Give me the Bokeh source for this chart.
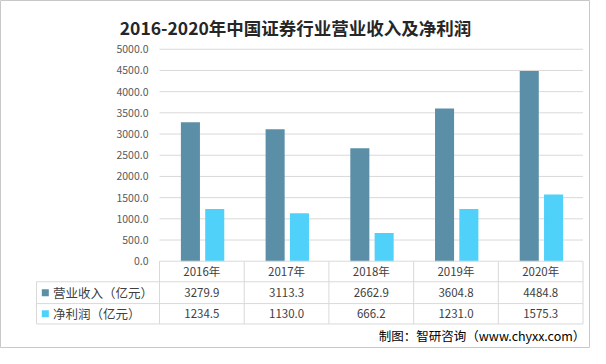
from bokeh.plotting import figure
from bokeh.models import ColumnDataSource, Range1d
from bokeh.core.properties import value
from bokeh.embed import file_html
from bokeh.resources import INLINE
import numpy as np

# ---- data ----
title_text = "2016-2020年中国证券行业营业收入及净利润"
years = ["2016年", "2017年", "2018年", "2019年", "2020年"]
revenue = [3279.9, 3113.3, 2662.9, 3604.8, 4484.8]
profit = [1234.5, 1130.0, 666.2, 1231.0, 1575.3]
series_names = ["营业收入（亿元）", "净利润（亿元）"]
y_ticks = [0, 500, 1000, 1500, 2000, 2500, 3000, 3500, 4000, 4500, 5000]
source_note = "制图：智研咨询（www.chyxx.com）"

# ---- styles ----
C_REV = "#5b8fa8"
C_PRO = "#4fd1fa"
GRID = "#d9d9d9"
FONT = value("Noto Sans CJK SC")

W, H = 590, 348
p = figure(width=W, height=H, output_backend="svg", toolbar_location=None,
           x_axis_location=None, y_axis_location=None, title=None,
           x_range=Range1d(-1.877, 5.088), y_range=Range1d(-2059, 6150),
           min_border=0, tools="")
p.outline_line_color = "#c8c8c8"
p.outline_line_width = 1
p.xgrid.visible = False
p.ygrid.visible = False
p.background_fill_color = "white"
p.border_fill_color = "white"

n = len(years)
idx = np.arange(n)

# gridlines (above 0)
gy = [t for t in y_ticks if t > 0]
p.segment(x0=[0] * len(gy), x1=[n] * len(gy), y0=gy, y1=gy, line_color=GRID, line_width=1)

# bars
src = ColumnDataSource(dict(x1=idx + 0.365, x2=idx + 0.652, rev=revenue, pro=profit))
p.vbar(x="x1", top="rev", bottom=0, width=0.225, source=src, fill_color=C_REV, line_color=None)
p.vbar(x="x2", top="pro", bottom=0, width=0.225, source=src, fill_color=C_PRO, line_color=None)

# y tick labels
p.text(x=[0] * len(y_ticks), y=y_ticks, text=[f"{t:.1f}" for t in y_ticks],
       x_offset=-11, text_align="right", text_baseline="middle",
       text_font=FONT, text_font_size="10.5px", text_color="#595959")

# table
ROW = [0, -485, -1000, -1480]
LEFT = -1.452
p.segment(x0=[0], x1=[n], y0=[ROW[0]], y1=[ROW[0]], line_color=GRID, line_width=1)
p.segment(x0=[LEFT] * 3, x1=[n] * 3, y0=ROW[1:], y1=ROW[1:], line_color=GRID, line_width=1)
vx = list(range(n + 1))
p.segment(x0=vx, x1=vx, y0=[ROW[0]] * len(vx), y1=[ROW[3]] * len(vx), line_color=GRID, line_width=1)
p.segment(x0=[LEFT], x1=[LEFT], y0=[ROW[1]], y1=[ROW[3]], line_color=GRID, line_width=1)

mid = [(ROW[i] + ROW[i + 1]) / 2 for i in range(3)]
p.text(x=idx + 0.5, y=[mid[0]] * n, text=years, text_align="center", text_baseline="middle",
       text_font=FONT, text_font_size="11.5px", text_color="#404040")
p.text(x=idx + 0.5, y=[mid[1]] * n, text=[f"{v:.1f}" for v in revenue], text_align="center",
       text_baseline="middle", text_font=FONT, text_font_size="11.5px", text_color="#404040")
p.text(x=idx + 0.5, y=[mid[2]] * n, text=[f"{v:.1f}" for v in profit], text_align="center",
       text_baseline="middle", text_font=FONT, text_font_size="11.5px", text_color="#404040")
p.scatter(x=[-1.348, -1.348], y=[mid[1], mid[2]], marker="square", size=7,
          fill_color=[C_REV, C_PRO], line_color=None)
p.text(x=[-1.256, -1.256], y=[mid[1], mid[2]], text=series_names, text_align="left",
       text_baseline="middle", text_font=FONT, text_font_size="12.5px", text_color="#404040")

# title
p.text(x=[1.606], y=[5512], text=[title_text], text_align="center", text_baseline="middle",
       text_font=FONT, text_font_size="17.5px", text_font_style="bold", text_color="#262626")

# source note
p.text(x=[5.027], y=[-1749], text=[source_note], text_align="right", text_baseline="middle",
       text_font=FONT, text_font_size="12.5px", text_color="#000000")

open("out.html", "w").write(file_html(p, INLINE))
